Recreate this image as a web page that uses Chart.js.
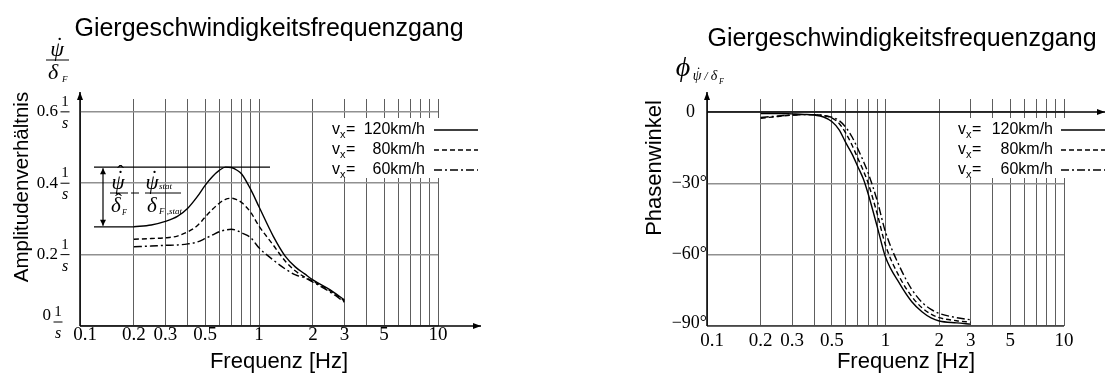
<!DOCTYPE html>
<html>
<head>
<meta charset="utf-8">
<script src="https://cdn.jsdelivr.net/npm/chart.js@4.4.0/dist/chart.umd.min.js"></script>
<style>
  body { margin: 0; background: #fff; width: 1105px; height: 374px; overflow: hidden; position: relative; }
  canvas { position: absolute; top: 0; }
  #amp { left: 0; }
  #phase { left: 552px; }
</style>
</head>
<body>
<canvas id="amp" width="552" height="374"></canvas>
<canvas id="phase" width="553" height="374"></canvas>
<script>
// Frequenz [Hz]
const freqs = [0.2, 0.25, 0.3, 0.35, 0.4, 0.45, 0.5, 0.55, 0.6, 0.65, 0.7, 0.75, 0.8, 0.9, 1.0, 1.2, 1.4, 1.6, 1.8, 2.0, 2.5, 3.0];

// Amplitudenverhaeltnis [1/s]
const amp120 = [0.278, 0.283, 0.293, 0.307, 0.330, 0.361, 0.394, 0.419, 0.436, 0.445, 0.444, 0.437, 0.426, 0.382, 0.334, 0.252, 0.196, 0.165, 0.146, 0.129, 0.101, 0.073];
const amp80  = [0.243, 0.245, 0.247, 0.252, 0.264, 0.280, 0.305, 0.327, 0.344, 0.355, 0.358, 0.354, 0.346, 0.318, 0.280, 0.227, 0.182, 0.154, 0.137, 0.126, 0.098, 0.070];
const amp60  = [0.222, 0.224, 0.226, 0.227, 0.230, 0.235, 0.245, 0.255, 0.264, 0.269, 0.271, 0.268, 0.261, 0.247, 0.219, 0.185, 0.160, 0.143, 0.135, 0.123, 0.095, 0.067];

// Phasenwinkel [deg]
const phase120 = [-0.6, -0.6, -0.8, -1.0, -1.3, -2.1, -4.0, -7.5, -13.0, -17.7, -23.0, -28.0, -34.5, -48.4, -61.0, -72.2, -79.7, -84.0, -86.6, -87.9, -88.7, -89.2];
const phase80  = [-2.6, -1.9, -1.3, -1.1, -1.1, -1.5, -2.5, -4.8, -9.0, -14.0, -19.5, -24.5, -30.0, -43.0, -56.0, -69.5, -77.5, -82.3, -85.0, -86.5, -87.8, -88.4];
const phase60  = [-2.3, -1.7, -1.3, -1.1, -1.1, -1.5, -2.2, -3.6, -6.5, -10.5, -15.5, -20.5, -25.7, -37.5, -50.5, -65.0, -74.5, -80.0, -83.0, -84.7, -86.5, -87.4];

const speeds = ['120', '80', '60'];
const xTickLabels = [0.1, 0.2, 0.3, 0.5, 1, 2, 3, 5, 10];
const gridFreqs = [0.1, 0.2, 0.3, 0.4, 0.5, 0.6, 0.7, 0.8, 0.9, 1, 2, 3, 4, 5, 6, 7, 8, 9, 10];
const ampTicks = [0, 0.2, 0.4, 0.6];
const phaseTicks = [0, -30, -60, -90];
const titleText = 'Giergeschwindigkeitsfrequenzgang';

const SANS = '"Liberation Sans", Arial, sans-serif';
const SERIF = '"Liberation Serif", "Times New Roman", serif';
const dashes = [[], [5, 3], [8, 3, 2, 3]];

function pts(ys) {
    return freqs.map((f, i) => ({ x: f, y: ys[i] }));
}

function makeDatasets(series) {
    return series.map((ys, i) => ({
        label: 'vx= ' + speeds[i] + 'km/h',
        data: pts(ys),
        borderColor: '#000',
        borderWidth: 1.4,
        borderDash: dashes[i],
        pointRadius: 0,
        fill: false,
        cubicInterpolationMode: 'monotone'
    }));
}

function txt(ctx, s, x, y, font, align, base) {
    ctx.font = font;
    ctx.textAlign = align || 'left';
    ctx.textBaseline = base || 'middle';
    ctx.fillText(s, x, y);
}

function arrow(ctx, x1, y1, x2, y2, head) {
    const h = head || 8;
    ctx.beginPath();
    ctx.moveTo(x1, y1);
    ctx.lineTo(x2, y2);
    ctx.stroke();
    const a = Math.atan2(y2 - y1, x2 - x1);
    ctx.beginPath();
    ctx.moveTo(x2, y2);
    ctx.lineTo(x2 - h * Math.cos(a) + 3 * Math.sin(a), y2 - h * Math.sin(a) - 3 * Math.cos(a));
    ctx.lineTo(x2 - h * Math.cos(a) - 3 * Math.sin(a), y2 - h * Math.sin(a) + 3 * Math.cos(a));
    ctx.closePath();
    ctx.fill();
}

// greek letter (baseline y) with optional dot / hat accents
function greek(ctx, ch, x, y, size, dot, hat) {
    txt(ctx, ch, x, y, 'italic ' + size + 'px ' + SERIF, 'center', 'alphabetic');
    const dx = size * 0.12;
    if (dot) txt(ctx, '\u02D9', x + dx, y - size * 0.2, size + 'px ' + SERIF, 'center', 'alphabetic');
    if (hat) txt(ctx, '\u02C6', x + dx, y - size * (dot ? 0.42 : 0.2), size + 'px ' + SERIF, 'center', 'alphabetic');
}

function hline(ctx, x1, x2, y) {
    ctx.beginPath();
    ctx.moveTo(x1, y);
    ctx.lineTo(x2, y);
    ctx.stroke();
}

function drawLegend(ctx, vx, textRight, lineL, lineR, y0, boxL, boxR) {
    ctx.fillStyle = '#fff';
    ctx.fillRect(boxL, y0 - 12, boxR - boxL, 60);
    ctx.fillStyle = '#000';
    ctx.strokeStyle = '#000';
    ctx.lineWidth = 1.3;
    speeds.forEach((sp, i) => {
        const y = y0 + i * 20;
        txt(ctx, 'v', vx, y, '16px ' + SANS);
        const w = ctx.measureText('v').width;
        txt(ctx, 'x', vx + w, y + 5, '11px ' + SANS);
        txt(ctx, '=', vx + w + 6, y, '16px ' + SANS);
        txt(ctx, sp + 'km/h', textRight, y, '16px ' + SANS, 'right');
        ctx.setLineDash(dashes[i]);
        hline(ctx, lineL, lineR, y);
        ctx.setLineDash([]);
    });
}

function xLabels(ctx, sx, y) {
    xTickLabels.forEach(v => {
        const px = sx.getPixelForValue(v) + (v === 0.1 ? 5 : 0);
        txt(ctx, String(v), px, y, '19px ' + SERIF, 'center');
    });
}

const gridX = {
    type: 'logarithmic',
    min: 0.1,
    max: 10,
    afterBuildTicks: s => { s.ticks = gridFreqs.map(v => ({ value: v })); },
    ticks: { display: false },
    grid: { drawTicks: false, color: '#5e5e5e', lineWidth: 1 },
    border: { display: false }
};

const ampDecor = {
    id: 'ampDecor',
    afterDraw(chart) {
        const ctx = chart.ctx;
        const { x: sx, y: sy } = chart.scales;
        const a = chart.chartArea;
        ctx.save();
        ctx.fillStyle = '#000';
        ctx.strokeStyle = '#000';
        ctx.lineWidth = 1.5;
        const y0 = sy.getPixelForValue(0);
        arrow(ctx, a.left, y0, a.left, 92);
        arrow(ctx, a.left, y0, 481, y0);

        // y tick labels with unit 1/s
        ampTicks.forEach(v => {
            const py = sy.getPixelForValue(v);
            const zero = v === 0;
            const right = zero ? 51 : 58;
            const cy = zero ? py - 10 : py;
            txt(ctx, zero ? '0' : v.toFixed(1), right, cy, '17px ' + SERIF, 'right');
            const fx = right + 7;
            const fy = zero ? py - 4 : py;
            ctx.lineWidth = 1;
            hline(ctx, fx - 4.5, fx + 4.5, fy);
            txt(ctx, '1', fx, fy - 10, '15px ' + SERIF, 'center');
            txt(ctx, 's', fx, fy + 12, 'italic 16px ' + SERIF, 'center');
        });

        xLabels(ctx, sx, 335);
        txt(ctx, 'Frequenz [Hz]', 279, 362, '22px ' + SANS, 'center');
        txt(ctx, titleText, 269, 29, '25px ' + SANS, 'center');

        ctx.save();
        ctx.translate(22, 187);
        ctx.rotate(-Math.PI / 2);
        txt(ctx, 'Amplitudenverhältnis', 0, 0, '20.5px ' + SANS, 'center');
        ctx.restore();

        // axis symbol psi-dot / delta_F
        ctx.lineWidth = 1;
        greek(ctx, 'ψ', 57, 56, 22, true, false);
        hline(ctx, 46, 69, 60);
        greek(ctx, 'δ', 53, 79, 22, false, false);
        txt(ctx, 'F', 62, 80, 'italic 9px ' + SERIF, 'left');

        // annotation of resonance ratio
        const yPeak = sy.getPixelForValue(Math.max(...amp120));
        const yStat = sy.getPixelForValue(amp120[0]);
        ctx.lineWidth = 1.2;
        hline(ctx, 94, 270, yPeak);
        hline(ctx, 94, sx.getPixelForValue(freqs[0]), yStat);
        arrow(ctx, 103, (yPeak + yStat) / 2, 103, yPeak + 1, 6);
        arrow(ctx, 103, (yPeak + yStat) / 2, 103, yStat - 1, 6);
        ctx.lineWidth = 1;
        greek(ctx, 'ψ', 118, 189, 21, true, true);
        hline(ctx, 110, 128, 193);
        greek(ctx, 'δ', 116, 212, 21, false, true);
        txt(ctx, 'F', 122, 213, 'italic 8px ' + SERIF, 'left');
        hline(ctx, 131, 139, 193);
        greek(ctx, 'ψ', 152, 189, 21, true, false);
        txt(ctx, 'stat', 159, 187, 'italic 9px ' + SERIF, 'left');
        hline(ctx, 145, 181, 193);
        greek(ctx, 'δ', 152, 212, 21, false, false);
        txt(ctx, 'F ,stat', 159, 212, 'italic 9px ' + SERIF, 'left');

        drawLegend(ctx, 332, 425, 434, 478, 130, 327, 482);
        ctx.restore();
    }
};

const phaseDecor = {
    id: 'phaseDecor',
    afterDraw(chart) {
        const ctx = chart.ctx;
        const { x: sx, y: sy } = chart.scales;
        const a = chart.chartArea;
        ctx.save();
        ctx.fillStyle = '#000';
        ctx.strokeStyle = '#000';
        ctx.lineWidth = 1.5;
        const y0 = sy.getPixelForValue(0);
        const yb = sy.getPixelForValue(-90);
        arrow(ctx, a.left, yb, a.left, 92);
        arrow(ctx, a.left, y0, 553, y0);
        ctx.lineWidth = 1.2;
        hline(ctx, a.left, a.right, yb);

        phaseTicks.forEach(v => {
            const py = sy.getPixelForValue(v) - (v === -90 ? 3 : 0);
            if (v === 0) {
                txt(ctx, '0', 143, py, '18px ' + SERIF, 'right');
            } else {
                txt(ctx, '\u2212' + Math.abs(v) + '°', 155, py, '18px ' + SERIF, 'right');
            }
        });

        xLabels(ctx, sx, 341);
        txt(ctx, 'Frequenz [Hz]', 354, 362, '22px ' + SANS, 'center');
        txt(ctx, titleText, 350, 39, '25px ' + SANS, 'center');

        ctx.save();
        ctx.translate(103, 168);
        ctx.rotate(-Math.PI / 2);
        txt(ctx, 'Phasenwinkel', 0, 0, '22px ' + SANS, 'center');
        ctx.restore();

        // axis symbol phi_(psi-dot / delta_F)
        txt(ctx, 'ϕ', 131, 76, 'italic 28px ' + SERIF, 'center', 'alphabetic');
        greek(ctx, 'ψ', 145, 80, 14, true, false);
        txt(ctx, '/', 154, 80, 'italic 12px ' + SERIF, 'center', 'alphabetic');
        greek(ctx, 'δ', 162, 80, 14, false, false);
        txt(ctx, 'F', 167, 82, 'italic 8px ' + SERIF, 'left');

        drawLegend(ctx, 406, 501, 509, 553, 130, 402, 553);
        ctx.restore();
    }
};

new Chart(document.getElementById('amp'), {
    type: 'line',
    data: { datasets: makeDatasets([amp120, amp80, amp60]) },
    options: {
        responsive: false,
        animation: false,
        layout: { padding: { left: 80, right: 114, top: 99, bottom: 48 } },
        plugins: { legend: { display: false }, tooltip: { enabled: false } },
        scales: {
            x: gridX,
            y: {
                min: 0,
                max: 0.636,
                afterBuildTicks: s => { s.ticks = ampTicks.map(v => ({ value: v })); },
                ticks: { display: false },
                grid: { drawTicks: false, color: '#909090', lineWidth: 1.5 },
                border: { display: false }
            }
        }
    },
    plugins: [ampDecor]
});

new Chart(document.getElementById('phase'), {
    type: 'line',
    data: { datasets: makeDatasets([phase120, phase80, phase60]) },
    options: {
        responsive: false,
        animation: false,
        layout: { padding: { left: 155, right: 41, top: 99, bottom: 48 } },
        plugins: { legend: { display: false }, tooltip: { enabled: false } },
        scales: {
            x: gridX,
            y: {
                min: -90,
                max: 5.47,
                afterBuildTicks: s => { s.ticks = phaseTicks.map(v => ({ value: v })); },
                ticks: { display: false },
                grid: { drawTicks: false, color: '#909090', lineWidth: 1.5 },
                border: { display: false }
            }
        }
    },
    plugins: [phaseDecor]
});
</script>
</body>
</html>
